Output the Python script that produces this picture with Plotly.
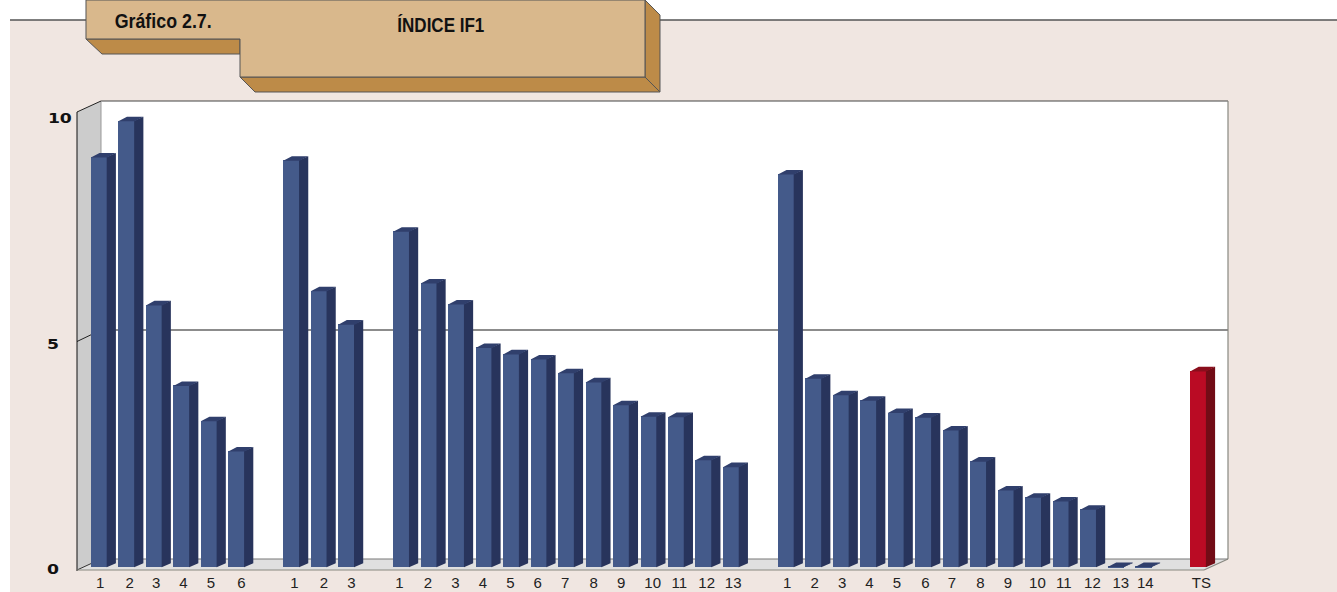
import json
import plotly.graph_objects as go

# ---- data ----
group_a = [8.96, 9.75, 5.73, 3.97, 3.20, 2.54]
group_b = [8.89, 6.04, 5.31]
group_c = [7.34, 6.21, 5.75, 4.80, 4.66, 4.55, 4.25, 4.05, 3.55, 3.30, 3.29, 2.35, 2.20]
group_d = [8.59, 4.13, 3.77, 3.65, 3.38, 3.28, 3.00, 2.32, 1.69, 1.53, 1.45, 1.27, 0.02, 0.02]
total_ts = [4.29]
labels_a = ["1", "2", "3", "4", "5", "6"]
labels_b = ["1", "2", "3"]
labels_c = [str(i) for i in range(1, 14)]
labels_d = [str(i) for i in range(1, 15)]
labels_ts = ["TS"]

# ---- layout constants ----
W, H = 1337, 592
PLOT_BOTTOM = 570
Y0_PX = 567.3
PX_PER_UNIT = 45.8
SLOT_PX = 27.48
FIRST_CENTER_PX = 99.1
BAR_W = 16.4 / SLOT_PX
DX = 8.6 / SLOT_PX
DY = 4.0 / PX_PER_UNIT
OVERLAP_X = 0.6 / SLOT_PX
OVERLAP_Y = 0.6 / PX_PER_UNIT
starts = [0, 7, 11, 25, 40]
label_nudge_px = [1, 3, 2, 2, 2, 5,
                  3, 5, 5,
                  -2, -1, -1, -1, -1, -1, -1, 0, 0, 4, 3, 3, 2,
                  1, 1, 1, 1, 1, 2, 1, 2, 2, 4, 3, 4, 5, 2,
                  3]

FRONT, SIDE, TOP = "#445a8a", "#28345c", "#303f6c"
R_FRONT, R_SIDE, R_TOP = "#ba0b24", "#720c16", "#8a0e1c"
PANEL = "#f0e6e1"
TAN, TAN_DARK, EDGE = "#d9b88c", "#bd8b48", "#555555"
FONT = "Liberation Sans"


def slots(start, n):
    return [start + i for i in range(n)]


blue_vals = group_a + group_b + group_c + group_d
blue_x = (slots(starts[0], len(group_a)) + slots(starts[1], len(group_b))
          + slots(starts[2], len(group_c)) + slots(starts[3], len(group_d)))
red_x = slots(starts[4], len(total_ts))
tick_x = blue_x + red_x
tick_text = labels_a + labels_b + labels_c + labels_d + labels_ts
tick_pos = [x + n / SLOT_PX for x, n in zip(tick_x, label_nudge_px)]


def faces(xs, vals):
    sx, sy, tx, ty = [], [], [], []
    h = BAR_W / 2
    for x, v in zip(xs, vals):
        sl = x + h - OVERLAP_X
        sx += [sl, x + h + DX, x + h + DX, sl, sl, None]
        sy += [0, DY, v + DY, v, 0, None]
        b = v - OVERLAP_Y
        tx += [x - h, x + h, x + h + DX, x - h + DX, x - h, None]
        ty += [b, b, v + DY, v + DY, b, None]
    return sx, sy, tx, ty


def poly(xs, ys, color):
    return go.Scatter(x=xs, y=ys, mode="lines", fill="toself", fillcolor=color,
                      line=dict(width=0, color=color), hoverinfo="skip", showlegend=False)


fig = go.Figure()
fig.add_trace(go.Bar(x=blue_x, y=blue_vals, width=BAR_W, marker=dict(color=FRONT, line=dict(width=0)),
                     showlegend=False))
fig.add_trace(go.Bar(x=red_x, y=total_ts, width=BAR_W, marker=dict(color=R_FRONT, line=dict(width=0)),
                     showlegend=False))
sx, sy, tx, ty = faces(blue_x, blue_vals)
fig.add_trace(poly(sx, sy, SIDE))
fig.add_trace(poly(tx, ty, TOP))
sx, sy, tx, ty = faces(red_x, total_ts)
fig.add_trace(poly(sx, sy, R_SIDE))
fig.add_trace(poly(tx, ty, R_TOP))


def P(x, y):
    return f"{x / W:.5f},{(PLOT_BOTTOM - y) / PLOT_BOTTOM:.5f}"


def path(points):
    return "M " + " L ".join(P(x, y) for x, y in points) + " Z"


def shape(points, fill=None, line=None, lw=1, layer="below"):
    d = dict(type="path", xref="paper", yref="paper", path=path(points), layer=layer,
             line=dict(color=line or "rgba(0,0,0,0)", width=lw if line else 0))
    if fill:
        d["fillcolor"] = fill
    return d


def seg(x0, y0, x1, y1, color, lw=1, layer="below"):
    return dict(type="line", xref="paper", yref="paper", layer=layer,
                x0=x0 / W, x1=x1 / W, y0=(PLOT_BOTTOM - y0) / PLOT_BOTTOM, y1=(PLOT_BOTTOM - y1) / PLOT_BOTTOM,
                line=dict(color=color, width=lw))


shapes = [
    shape([(10, 20), (W, 20), (W, H), (10, H)], fill=PANEL),
    seg(10, 20, W, 20, EDGE, 1.5),
    shape([(101, 101), (1228, 101), (1228, 559), (101, 559)], fill="#ffffff"),
    shape([(77, 112), (101, 101), (101, 559), (77, 570)], fill="#cccccc"),
    shape([(77, 570), (101, 559), (1228, 559), (1204, 570)], fill="#e0e0e0"),
    seg(101, 330, 1228, 330, "#666666", 1.5),
    seg(77, 341.5, 101, 330, "#222222", 1),
    seg(101, 101, 1228, 101, "#444444", 1.2),
    seg(1228, 101, 1228, 559, "#888880", 1.2),
    seg(101, 559, 1228, 559, "#777777", 1),
    seg(101, 101, 101, 559, "#999999", 1),
    seg(77, 112, 101, 101, "#222222", 1),
    seg(77, 112, 77, 571, "#111111", 1),
    seg(77, 570, 101, 559, "#333333", 1),
    seg(77, 570, 1204, 570, "#888880", 1.2),
    seg(1204, 570, 1228, 559, "#888880", 1.2),
    # title plate
    shape([(86, 39), (240, 39), (240, 54), (102, 54)], fill=TAN_DARK, line=EDGE, layer="above"),
    shape([(240, 77), (645, 77), (660, 92), (255, 92)], fill=TAN_DARK, line=EDGE, layer="above"),
    shape([(645, 0), (660, 15), (660, 92), (645, 77)], fill=TAN_DARK, line=EDGE, layer="above"),
    shape([(86, 0), (645, 0), (645, 77), (240, 77), (240, 39), (86, 39)], fill=TAN, line=EDGE, layer="above"),
]


def note(text, x, y, size, family, anchor="center"):
    return dict(text=text, xref="paper", yref="paper", x=x / W, y=(PLOT_BOTTOM - y) / PLOT_BOTTOM,
                xanchor=anchor, yanchor="middle", showarrow=False,
                font=dict(family=family, size=size, color="#111111"))


annotations = [
    note("<b>Gráfico 2.7.</b>", 163, 20, 21, FONT),
    note("<b>ÍNDICE IF1</b>", 441, 24, 21, FONT),
    note("<b>10</b>", 59.5, 118.5, 14, "DejaVu Sans"),
    note("<b>5</b>", 53, 343.5, 14, "DejaVu Sans"),
    note("<b>0</b>", 53, 568.5, 14, "DejaVu Sans"),
]

fig.update_layout(
    width=W, height=H, margin=dict(l=0, r=0, t=0, b=H - PLOT_BOTTOM, pad=0),
    paper_bgcolor="#ffffff", plot_bgcolor="rgba(0,0,0,0)",
    shapes=shapes, annotations=annotations, bargap=0, showlegend=False,
    xaxis=dict(range=[-FIRST_CENTER_PX / SLOT_PX, (W - FIRST_CENTER_PX) / SLOT_PX],
               tickmode="array", tickvals=tick_pos, ticktext=tick_text, ticks="",
               showgrid=False, zeroline=False, showline=False, ticklabelstandoff=2,
               tickfont=dict(family=FONT, size=15, color="#222222"), fixedrange=True, tickangle=0),
    yaxis=dict(range=[(Y0_PX - PLOT_BOTTOM) / PX_PER_UNIT, Y0_PX / PX_PER_UNIT],
               showticklabels=False, ticks="", showgrid=False, zeroline=False, showline=False,
               fixedrange=True),
)

# fitted text widths (px), to match the condensed title face and the extended digit face
fit = {"Gráfico 2.7.": 97, "ÍNDICE IF1": 87, "10": 24, "5": 12, "0": 12}
post = """
document.body.style.margin='0';document.body.style.overflow='hidden';
(function(){var fit=%s;
function apply(){document.querySelectorAll('.annotation-text').forEach(function(t){
 var k=t.textContent; if(fit[k]){
  var b=t.getBBox(); var cx=b.x+b.width/2;
  t.setAttribute('text-anchor','middle');t.setAttribute('x',cx);
  t.querySelectorAll('tspan').forEach(function(s){s.setAttribute('textLength',fit[k]);s.setAttribute('lengthAdjust','spacingAndGlyphs');});
  t.setAttribute('textLength',fit[k]);t.setAttribute('lengthAdjust','spacingAndGlyphs');
 }});}
apply();})();
""" % json.dumps(fit, ensure_ascii=False)

fig.write_html("out.html", config=dict(displayModeBar=False), post_script=post)
